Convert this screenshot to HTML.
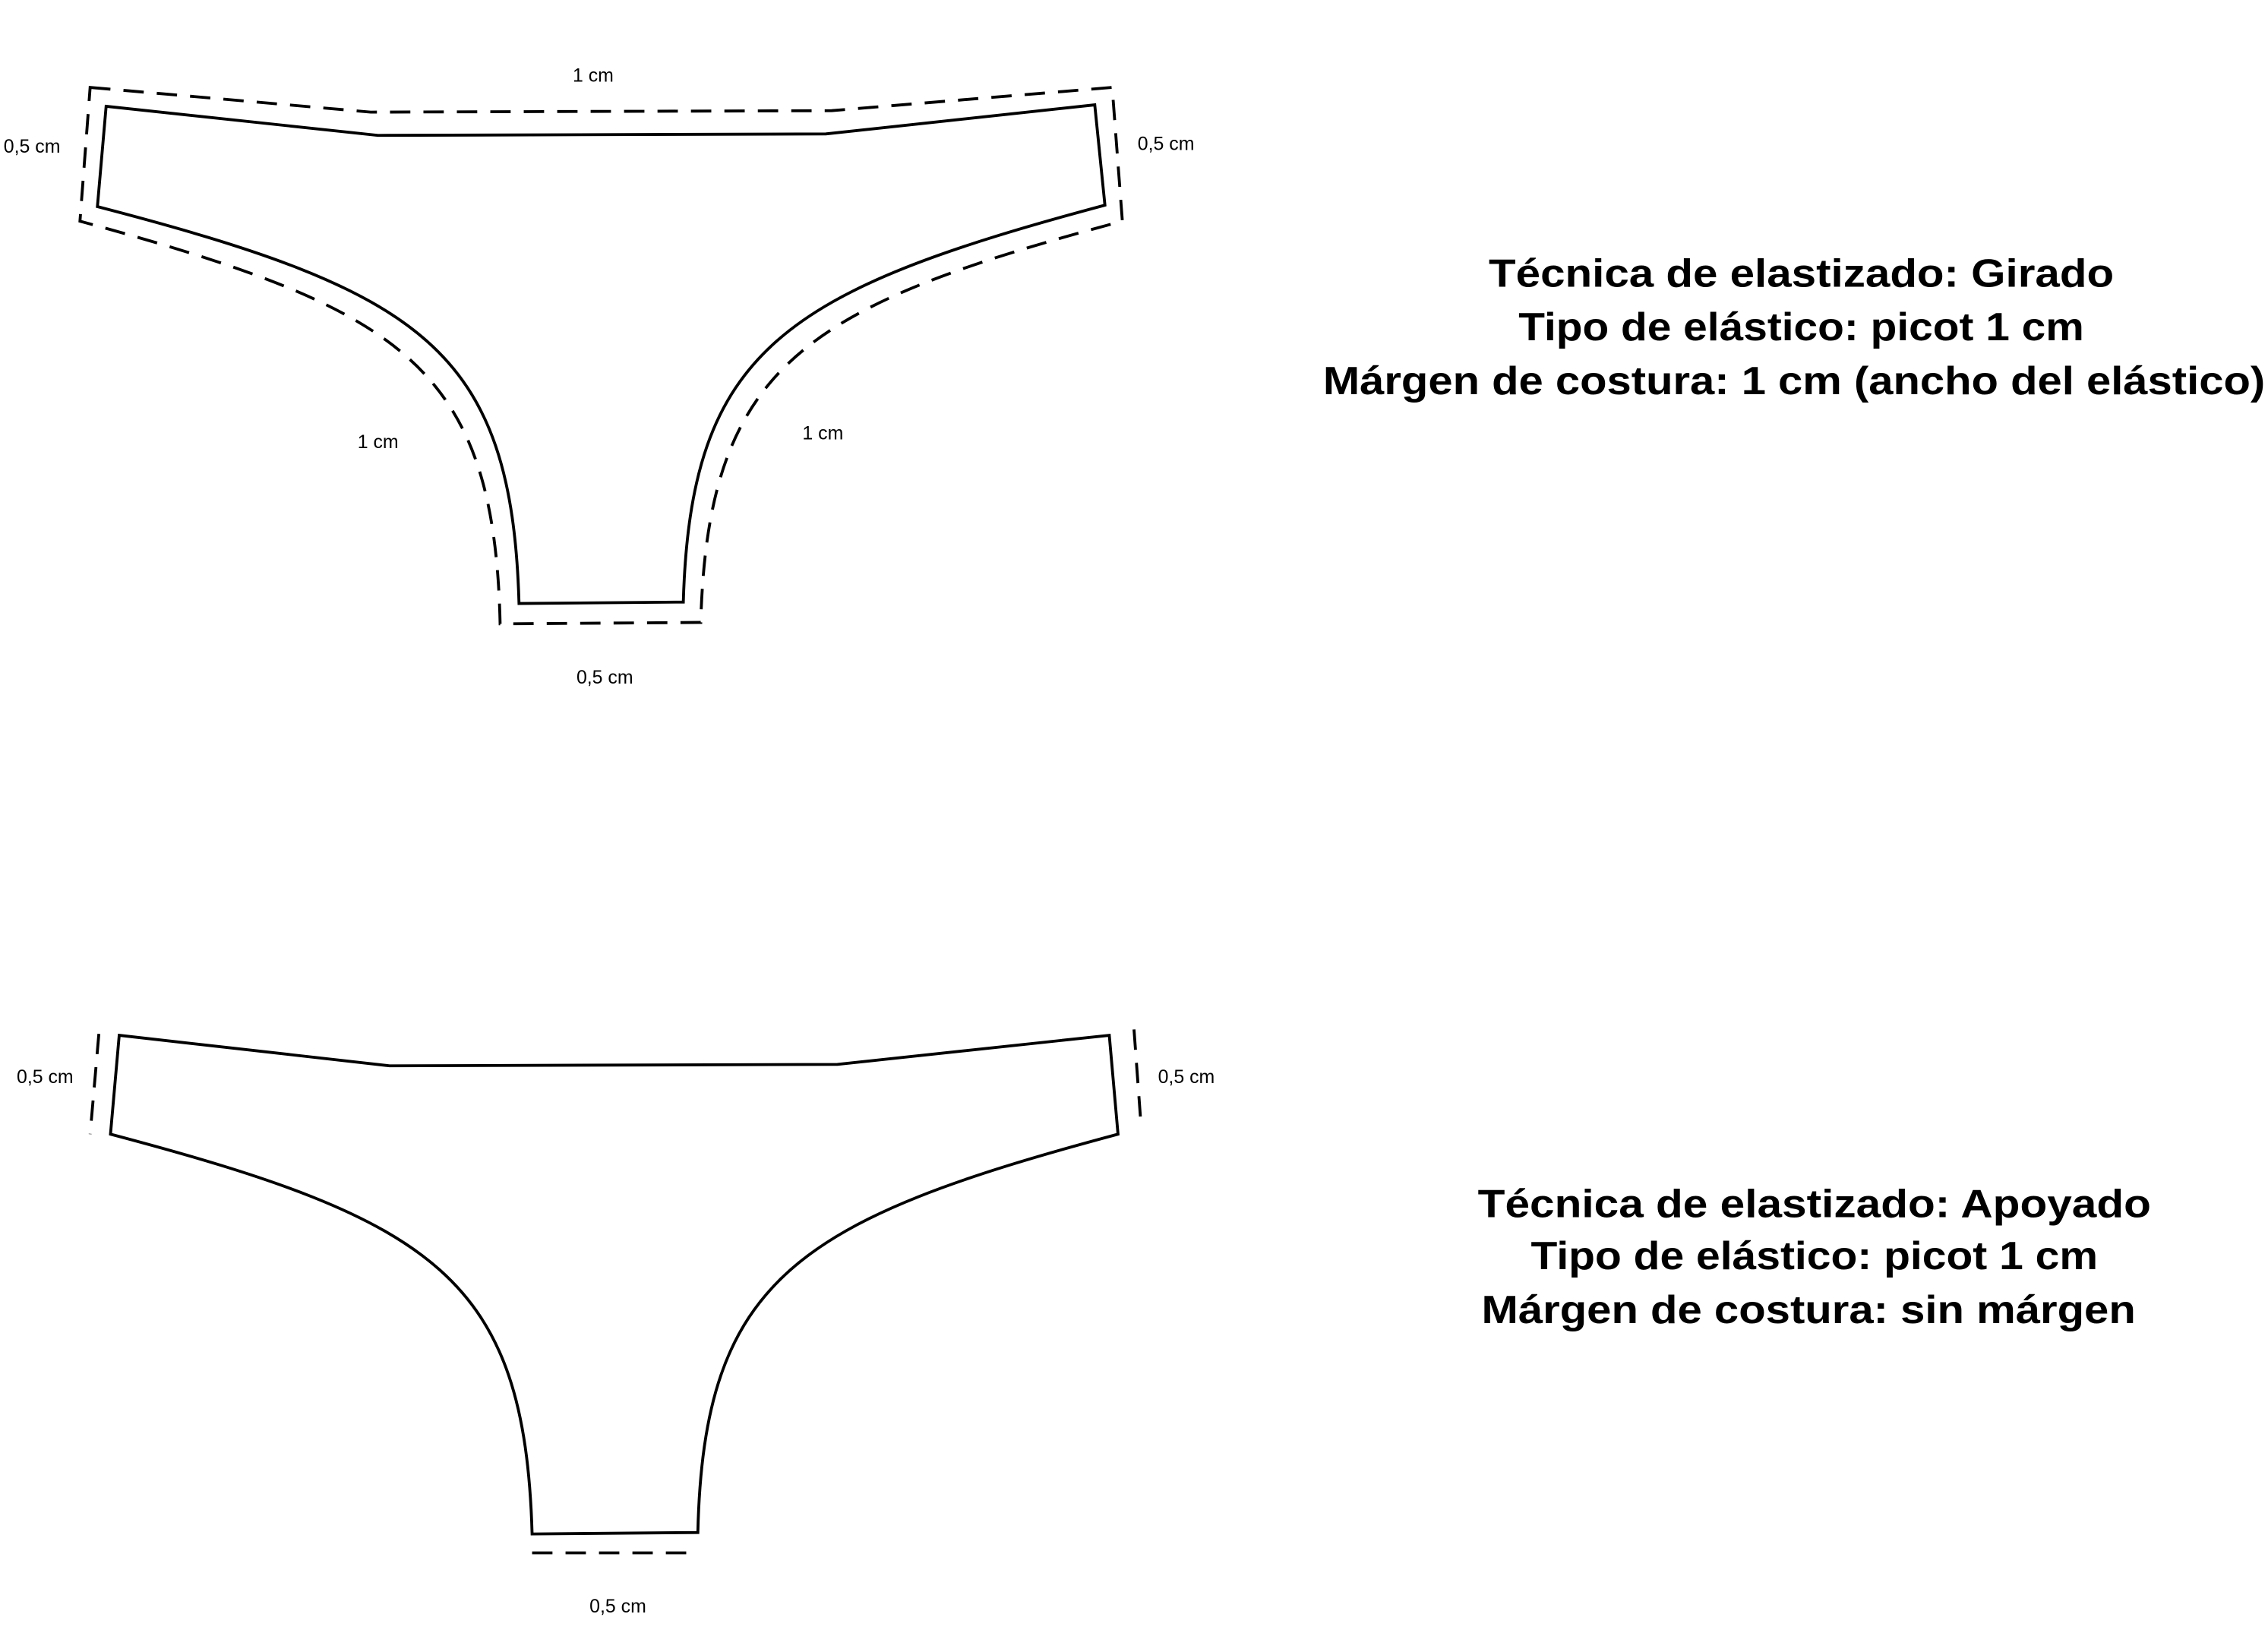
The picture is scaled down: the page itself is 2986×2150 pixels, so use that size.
<!DOCTYPE html>
<html><head><meta charset="utf-8"><style>
html,body{margin:0;padding:0;background:#fff;}
svg{display:block;}
</style></head><body>
<svg width="2986" height="2150" viewBox="0 0 1560 1123" xmlns="http://www.w3.org/2000/svg">
<rect width="1560" height="1123" fill="#fff"/>
<g fill="none" stroke="#000" stroke-width="2">
<path d="M73,73 L260,93 L568,92 L753,72 L760,141 C540,200 475,240 470,414 L357,415 C352,240 290,200 67,142 Z"/>
<path stroke-dasharray="14,9" d="M62,60 L255,77 L572,76 L765,60 L772,152 C555,210 487,250 482,428 L344,429 C340,250 275,212 55,152 Z"/>
<path d="M82,712 L268,733 L576,732 L763,712 L769,780 C549,839 484,879 480,1054 L366,1055 C361,879 299,839 76,780 Z"/>
<path stroke-dasharray="14,9" d="M68,711 L62,780 M780,708 L785,776 M366,1068 L480,1068"/>
</g>
<g font-family="'Liberation Sans',sans-serif" font-size="13" fill="#000" text-anchor="middle">
<text x="408" y="56">1 cm</text>
<text x="22" y="105">0,5 cm</text>
<text x="802" y="103">0,5 cm</text>
<text x="260" y="308">1 cm</text>
<text x="566" y="302">1 cm</text>
<text x="416" y="470">0,5 cm</text>
<text x="31" y="745">0,5 cm</text>
<text x="816" y="745">0,5 cm</text>
<text x="425" y="1109">0,5 cm</text>
</g>
<g font-family="'Liberation Sans',sans-serif" font-weight="bold" font-size="27" fill="#000" text-anchor="middle">
<text x="1239" y="197" textLength="430" lengthAdjust="spacingAndGlyphs">Técnica de elastizado: Girado</text>
<text x="1239" y="234" textLength="389" lengthAdjust="spacingAndGlyphs">Tipo de elástico: picot 1 cm</text>
<text x="1234" y="271" textLength="648" lengthAdjust="spacingAndGlyphs">Márgen de costura: 1 cm (ancho del elástico)</text>
<text x="1248" y="837" textLength="463" lengthAdjust="spacingAndGlyphs">Técnica de elastizado: Apoyado</text>
<text x="1248" y="873" textLength="390" lengthAdjust="spacingAndGlyphs">Tipo de elástico: picot 1 cm</text>
<text x="1244" y="910" textLength="450" lengthAdjust="spacingAndGlyphs">Márgen de costura: sin márgen</text>
</g>
</svg>
</body></html>
